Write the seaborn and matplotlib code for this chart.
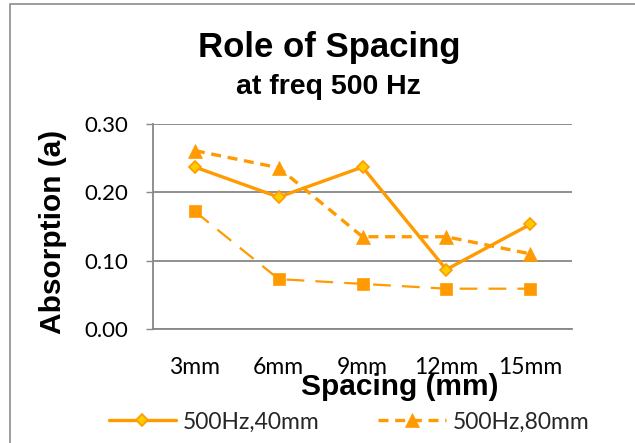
import numpy as np
import pandas as pd
import matplotlib
matplotlib.use("Agg")
import matplotlib.pyplot as plt
from matplotlib.patches import Rectangle
import seaborn as sns

# ---- data ----
spacing = ["3mm", "6mm", "9mm", "12mm", "15mm"]
abs_40mm = [0.237, 0.193, 0.237, 0.087, 0.153]
abs_80mm = [0.261, 0.236, 0.135, 0.135, 0.110]
abs_sq = [0.172, 0.073, 0.066, 0.059, 0.059]
yticks = [0.00, 0.10, 0.20, 0.30]
title = "Role of Spacing"
subtitle = "at freq 500 Hz"
xlabel = "Spacing (mm)"
ylabel = "Absorption (a)"
legend_labels = ["500Hz,40mm", "500Hz,80mm"]

sns.set_theme(style="white")
plt.rcParams["font.family"] = ["Liberation Sans", "DejaVu Sans"]

W, H = 635, 443
fig = plt.figure(figsize=(W / 100, H / 100), dpi=100)
ax = fig.add_axes([153 / W, 1 - 329 / H, (572 - 153) / W, (329 - 124) / H])

ORANGE = "#FF9A00"
YELLOW = "#FFCC00"
GRID = "#878787"

df40 = pd.DataFrame({"x": spacing, "y": abs_40mm})
df80 = pd.DataFrame({"x": spacing, "y": abs_80mm})
dfsq = pd.DataFrame({"x": spacing, "y": abs_sq})

sns.lineplot(data=dfsq, x="x", y="y", ax=ax, sort=False, color=ORANGE,
             linewidth=1.6, linestyle=(0, (8, 5)), marker="s", markersize=9,
             markerfacecolor=ORANGE, markeredgecolor=ORANGE, markeredgewidth=0.5,
             zorder=3)
sns.lineplot(data=df80, x="x", y="y", ax=ax, sort=False, color=ORANGE,
             linewidth=2.4, linestyle=(0, (3, 2)), marker="^", markersize=10,
             markerfacecolor=ORANGE, markeredgecolor=ORANGE, markeredgewidth=0.5,
             zorder=4)
sns.lineplot(data=df40, x="x", y="y", ax=ax, sort=False, color=ORANGE,
             linewidth=2.4, linestyle="-", marker="D", markersize=6.5,
             markerfacecolor=YELLOW, markeredgecolor=ORANGE, markeredgewidth=1.2,
             zorder=5)

lines = ax.get_lines()
line_sq, line_80, line_40 = lines[0], lines[1], lines[2]

ax.set_xlim(-0.5, 4.5)
ax.set_ylim(0, 0.30)
ax.set_yticks(yticks)
ax.set_yticklabels([f"{v:.2f}" for v in yticks])
ax.set_xlabel("")
ax.set_ylabel("")

ax.grid(axis="y", color=GRID, linewidth=1.3, zorder=0)
ax.grid(axis="x", visible=False)
ax.set_axisbelow(True)
for s in ["top", "right"]:
    ax.spines[s].set_visible(False)
ax.spines["left"].set_color(GRID)
ax.spines["left"].set_linewidth(1.3)
ax.spines["bottom"].set_color(GRID)
ax.spines["bottom"].set_linewidth(1.3)

tickfont = ["Lato", "DejaVu Sans"]
ax.tick_params(axis="y", left=True, length=5, width=1, color=GRID, pad=13,
               labelsize=16, labelcolor="black")
ax.tick_params(axis="x", bottom=False, length=0, pad=20, labelsize=16.5,
               labelcolor="black")
for lab in ax.get_xticklabels() + ax.get_yticklabels():
    lab.set_family(tickfont)

# titles & axis labels
fig.text(329 / W, 1 - 57 / H, title, ha="center", va="baseline",
         fontsize=25, fontweight="bold", color="black")
fig.text(328 / W, 1 - 94 / H, subtitle, ha="center", va="baseline",
         fontsize=20.5, fontweight="bold", color="black")
fig.text(400 / W, 1 - 395 / H, xlabel, ha="center", va="baseline",
         fontsize=21.5, fontweight="bold", color="black")
fig.text(53 / W, 1 - 232 / H, ylabel, ha="center", va="center",
         rotation=90, fontsize=21.5, fontweight="bold", color="black")

fig.legend([line_40, line_80], legend_labels, loc="center",
           bbox_to_anchor=(349 / W, 1 - 422 / H), ncol=2, frameon=False,
           handlelength=2.95, handletextpad=0.3,
           columnspacing=2.55, borderpad=0, numpoints=1,
           prop={"family": tickfont, "size": 16.5})

# chart frame (cropped)
fig.patches.append(Rectangle((10 / W, -0.5), 2, 1.5 - 4 / H,
                             transform=fig.transFigure, fill=False,
                             edgecolor="#8c8c8c", linewidth=1.2, clip_on=False))

fig.savefig("out.png", dpi=100)
